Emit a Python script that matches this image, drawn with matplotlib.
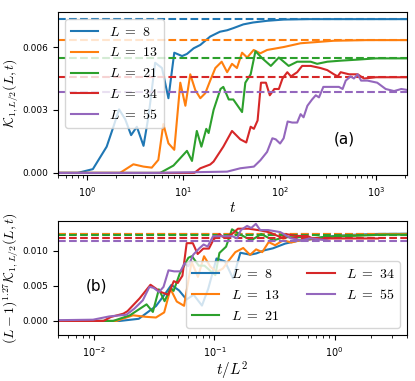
import matplotlib
matplotlib.use("Agg")
import matplotlib.pyplot as plt
import numpy as np

plt.rcParams['mathtext.fontset'] = 'cm'
plt.rcParams['axes.formatter.use_mathtext'] = True
plt.rcParams['xtick.labelsize'] = 7
plt.rcParams['ytick.labelsize'] = 6.5

# system sizes and saturation values of K
sizes = [8, 13, 21, 34, 55]
k_inf = [0.00733, 0.00633, 0.00546, 0.00456, 0.00387]
scale_exp = 0.27

# K_{1,L/2}(L, t)
t8 = [0.1, 0.8, 1.15, 1.6, 1.88, 2.15, 2.49, 2.87, 3.29, 3.86, 4.35, 5.1, 6.0, 7.0, 8.05,
      9.7, 10.9, 12.8, 15, 19, 24, 28.5, 33, 42, 53, 74, 110, 200, 2500]
k8 = [0, 0, 0.00018, 0.00125, 0.0022, 0.00303, 0.00256, 0.0018, 0.0022, 0.00129, 0.0027,
      0.00525, 0.0050, 0.00356, 0.00573, 0.00557, 0.00567, 0.00594, 0.0061, 0.0065, 0.00673,
      0.0068, 0.0069, 0.00708, 0.00717, 0.00725, 0.00731, 0.00733, 0.00733]

t13 = [0.1, 2.2, 3.03, 3.86, 4.7, 5.5, 6.2, 7.0, 8.05, 9.3, 10.5, 11.8, 13.3, 15, 16.9, 19,
       21.5, 25, 28.5, 32, 36, 40.7, 46, 53.7, 63, 74, 110, 165, 365, 800, 2500]
k13 = [0, 0, 0.00041, 0.0003, 0.00025, 0.00062, 0.00233, 0.00141, 0.0011, 0.0043, 0.0032,
       0.0047, 0.00395, 0.00356, 0.0038, 0.0044, 0.005, 0.0053, 0.0048, 0.0052, 0.005,
       0.00573, 0.0055, 0.00586, 0.0057, 0.00586, 0.006, 0.00618, 0.0063, 0.00633, 0.00633]

t21 = [0.1, 5.75, 7.9, 10.9, 12.3, 13.8, 15.4, 17.3, 18.3, 20.6, 24.3, 26, 29.6, 33, 40.7,
       44, 50, 56, 66, 81, 98, 124, 152, 210, 245, 312, 430, 645, 1000, 2500]
k21 = [0, 0, 0.00035, 0.00105, 0.00057, 0.002, 0.00125, 0.0021, 0.0019, 0.003, 0.004,
       0.0041, 0.0035, 0.0035, 0.0029, 0.0043, 0.0047, 0.0058, 0.00546, 0.0051, 0.0055,
       0.0051, 0.0053, 0.0053, 0.0052, 0.0053, 0.00535, 0.0054, 0.00546, 0.00546]

t34 = [0.1, 13, 15, 19, 20.6, 26, 32, 39, 45, 50, 54, 59, 64, 72, 79, 88, 98, 107, 120, 131,
       152, 171, 210, 265, 312, 366, 400, 430, 525, 645, 750, 1000, 2500]
k34 = [0, 0, 0.00022, 0.0004, 0.00054, 0.00125, 0.002, 0.0016, 0.00145, 0.0022, 0.0021,
       0.0025, 0.0043, 0.0043, 0.0037, 0.004, 0.004, 0.0045, 0.0048, 0.0046, 0.0048, 0.0051,
       0.0051, 0.005, 0.0049, 0.0047, 0.0046, 0.0048, 0.0047, 0.0047, 0.0045, 0.00456, 0.00456]

t55 = [0.1, 5, 28.5, 39, 54, 63, 74, 84, 91, 101, 110, 121, 135, 152, 165, 177, 194, 217,
       237, 256, 284, 340, 412, 450, 485, 545, 590, 645, 700, 815, 1030, 1260, 1540, 1830, 2500]
k55 = [0, 0, 0.00006, 0.00022, 0.0003, 0.0006, 0.001, 0.00165, 0.0016, 0.0014, 0.00165,
       0.00245, 0.0024, 0.0024, 0.0028, 0.00265, 0.0032, 0.0035, 0.0037, 0.0036, 0.0041,
       0.0041, 0.0041, 0.004, 0.0044, 0.0046, 0.0045, 0.0047, 0.0044, 0.0044, 0.0043, 0.004,
       0.0039, 0.004, 0.0039]

times = [t8, t13, t21, t34, t55]
kvals = [k8, k13, k21, k34, k55]
colors = ['C0', 'C1', 'C2', 'C3', 'C4']

fig = plt.figure(figsize=(4.15, 3.81), dpi=100)
ax1 = fig.add_axes([0.1398, 0.5407, 0.841, 0.4278])
ax2 = fig.add_axes([0.1398, 0.1207, 0.841, 0.2992])

# panel (a)
for L, t, k, kinf, c in zip(sizes, times, kvals, k_inf, colors):
    ax1.plot(t, k, color=c, lw=1.5, label=r'$L\ =\ %d$' % L)
    ax1.axhline(kinf, color=c, ls='--', lw=1.5)
ax1.set_xscale('log')
ax1.set_xlim(0.5, 2100)
ax1.set_ylim(-0.0001, 0.00767)
ax1.set_yticks([0.0, 0.003, 0.006])
ax1.set_yticklabels(['0.000', '0.003', '0.006'])
ax1.set_xlabel(r'$t$', fontsize=11, labelpad=1)
ax1.set_ylabel(r'$\mathcal{K}_{1,L/2}(L,t)$', fontsize=10)
ax1.yaxis.set_label_coords(-0.105, 0.5)
ax1.legend(loc='upper left', fontsize=10)
ax1.text(0.82, 0.22, '(a)', transform=ax1.transAxes, fontsize=11,
         ha='center', va='center')

# panel (b): rescaled data
for L, t, k, kinf, c in zip(sizes, times, kvals, k_inf, colors):
    x = np.array(t) / (L - 1) ** 2
    y = np.array(k) * (L - 1) ** scale_exp
    ax2.plot(x, y, color=c, lw=1.5, label=r'$L\ =\ %d$' % L)
    ax2.axhline(kinf * (L - 1) ** scale_exp, color=c, ls='--', lw=1.5)
ax2.set_xscale('log')
ax2.set_xlim(0.005, 4)
ax2.set_ylim(-0.002, 0.0142)
ax2.set_yticks([0.0, 0.005, 0.010])
ax2.set_yticklabels(['0.000', '0.005', '0.010'])
ax2.set_xlabel(r'$t/L^2$', fontsize=11, labelpad=1)
ax2.set_ylabel(r'$(L-1)^{1.27}\mathcal{K}_{1,L/2}(L,t)$', fontsize=10)
ax2.yaxis.set_label_coords(-0.105, 0.5)
ax2.legend(loc='lower right', ncol=2, fontsize=10)
ax2.text(0.11, 0.43, '(b)', transform=ax2.transAxes, fontsize=11,
         ha='center', va='center')

fig.savefig('out.png', dpi=100)
